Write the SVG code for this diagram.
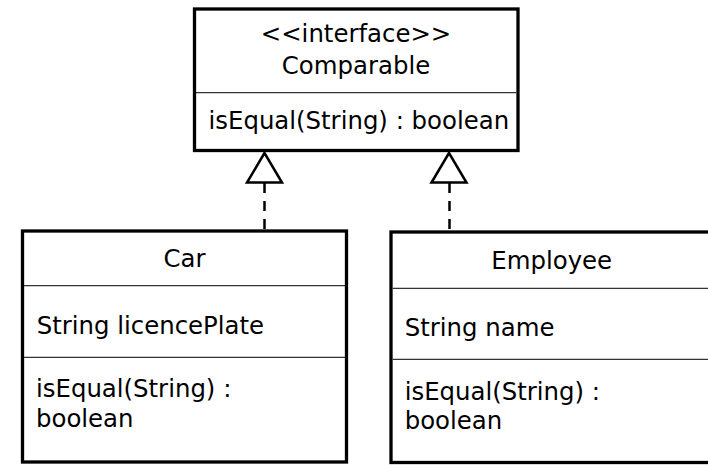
<svg xmlns="http://www.w3.org/2000/svg" width="708" height="465" viewBox="0 0 708 465">
<style>
.box{fill:#fff;stroke:#000;stroke-width:3.3}
.sep{stroke:#333;stroke-width:1.2}
text{font-family:"DejaVu Sans",sans-serif;font-size:24.4px;fill:#000}
.c{text-anchor:middle}
.dash{stroke:#000;stroke-width:2.5;stroke-dasharray:10,8;fill:none}
.tri{fill:#fff;stroke:#000;stroke-width:2.5}
</style>
<rect width="708" height="465" fill="#fff"/>
<g id="comparable">
<rect class="box" x="194.5" y="9" width="323.5" height="141.5"/>
<line class="sep" x1="196" y1="92.7" x2="516.5" y2="92.7"/>
<text class="c" x="356" y="42.3">&lt;&lt;interface&gt;&gt;</text>
<text class="c" x="356" y="74">Comparable</text>
<text x="208.5" y="129.3">isEqual(String) : boolean</text>
</g>
<g id="car">
<rect class="box" x="22.5" y="231" width="324" height="231"/>
<line class="sep" x1="24" y1="285.7" x2="345" y2="285.7"/>
<line class="sep" x1="24" y1="357.3" x2="345" y2="357.3"/>
<text class="c" x="184.5" y="266.7">Car</text>
<text x="36.7" y="334.3">String licencePlate</text>
<text x="36" y="396.7">isEqual(String) :</text>
<text x="36" y="427.3">boolean</text>
</g>
<g id="employee">
<rect class="box" x="391" y="232" width="321" height="230.5"/>
<line class="sep" x1="392.5" y1="288.3" x2="712" y2="288.3"/>
<line class="sep" x1="392.5" y1="359.3" x2="712" y2="359.3"/>
<text class="c" x="551.7" y="269.3">Employee</text>
<text x="404.7" y="336">String name</text>
<text x="404.7" y="400">isEqual(String) :</text>
<text x="404.7" y="429.3">boolean</text>
</g>
<g id="connectors">
<line class="dash" x1="264.5" y1="183" x2="264.5" y2="230"/>
<polygon class="tri" points="264.5,153 247,182.5 282,182.5"/>
<line class="dash" x1="449.5" y1="183" x2="449.5" y2="231"/>
<polygon class="tri" points="449,153 431.5,182.5 466.5,182.5"/>
</g>
</svg>
